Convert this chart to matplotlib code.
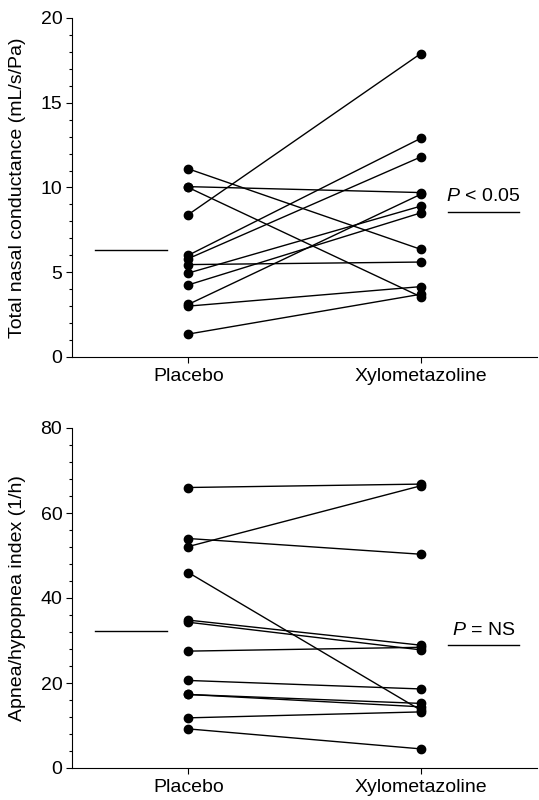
import matplotlib
matplotlib.use('Agg')
import matplotlib.pyplot as plt
from matplotlib.ticker import MultipleLocator

plt.rcParams['font.family'] = ['Liberation Sans', 'DejaVu Sans']
plt.rcParams['mathtext.fontset'] = 'custom'
plt.rcParams['mathtext.it'] = 'Liberation Sans:italic'
plt.rcParams['mathtext.rm'] = 'Liberation Sans'

GROUPS = ['Placebo', 'Xylometazoline']

# total nasal conductance (mL/s/Pa), one pair per subject
cond_placebo = [11.1, 10.05, 10.0, 8.4, 6.0, 5.8, 5.45, 4.95, 4.25, 3.1, 3.0, 1.35]
cond_xylo = [6.35, 9.7, 3.55, 17.9, 12.9, 11.8, 5.6, 8.9, 8.5, 9.6, 4.15, 3.7]
cond_means = [6.3, 8.57]
cond_p = '$P$ < 0.05'

# apnea/hypopnea index (1/h)
ahi_placebo = [66.0, 52.1, 54.0, 46.0, 34.8, 34.3, 27.5, 20.6, 17.3, 17.3, 11.8, 9.2]
ahi_xylo = [66.8, 66.4, 50.3, 13.6, 28.9, 27.8, 28.4, 18.6, 15.2, 14.4, 13.2, 4.5]
ahi_means = [32.2, 28.9]
ahi_p = '$P$ = NS'

FS = 14


def panel(ax, before, after, means, ptext, ymax, major, minor, ylabel):
    for a, b in zip(before, after):
        ax.plot([1, 2], [a, b], color='black', lw=1.0, marker='o', ms=6,
                mfc='black', mec='black', clip_on=False, zorder=3)
    # group means drawn beside each column
    ax.plot([0.60, 0.907], [means[0]] * 2, color='black', lw=1.0)
    ax.plot([2.117, 2.423], [means[1]] * 2, color='black', lw=1.0)
    ax.text(2.27, means[1] + ymax * 0.031, ptext, ha='center', va='baseline', fontsize=FS)

    ax.set_xlim(0.5, 2.5)
    ax.set_ylim(0, ymax)
    ax.set_xticks([1, 2])
    ax.set_xticklabels(GROUPS, fontsize=FS)
    ax.yaxis.set_major_locator(MultipleLocator(major))
    ax.yaxis.set_minor_locator(MultipleLocator(minor))
    ax.tick_params(axis='y', which='major', length=4, width=0.8, labelsize=FS, pad=3)
    ax.tick_params(axis='y', which='minor', length=2.5, width=0.8)
    ax.tick_params(axis='x', length=4, width=0.8, pad=4)
    ax.set_ylabel(ylabel, fontsize=FS)
    ax.yaxis.set_label_coords(-0.10, 0.5)
    for s in ('top', 'right'):
        ax.spines[s].set_visible(False)
    for s in ('left', 'bottom'):
        ax.spines[s].set_linewidth(0.8)


fig = plt.figure(figsize=(5.39, 8.0), dpi=100)
ax1 = fig.add_axes([0.1336, 0.5538, 0.8627, 0.4237])
ax2 = fig.add_axes([0.1336, 0.04, 0.8627, 0.425])

panel(ax1, cond_placebo, cond_xylo, cond_means, cond_p, 20, 5, 1,
      'Total nasal conductance (mL/s/Pa)')
panel(ax2, ahi_placebo, ahi_xylo, ahi_means, ahi_p, 80, 20, 4,
      'Apnea/hypopnea index (1/h)')

fig.savefig('out.png', dpi=100)
